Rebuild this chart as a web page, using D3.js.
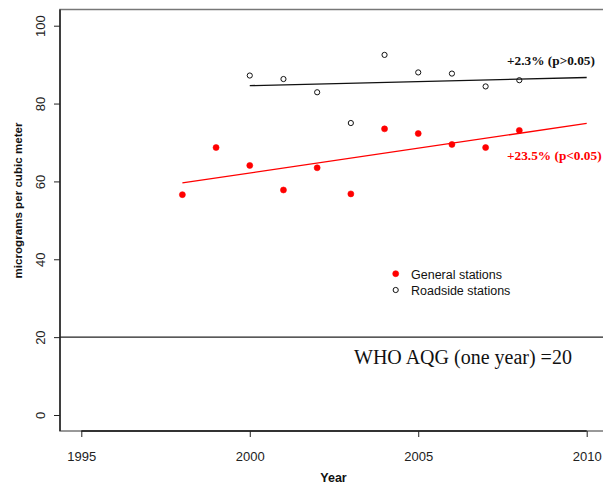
<!DOCTYPE html>
<html>
<head>
<meta charset="utf-8">
<script src="https://cdn.jsdelivr.net/npm/d3@7"></script>
<style>
  html, body { margin: 0; padding: 0; background: #fff; }
  svg { display: block; }
</style>
</head>
<body>
<svg id="chart" width="603" height="485"></svg>
<script>
// Annual mean concentrations (micrograms per cubic meter)
const generalYears  = [1998, 1999, 2000, 2001, 2002, 2003, 2004, 2005, 2006, 2007, 2008];
const generalValues = [56.6, 68.7, 64.1, 57.8, 63.5, 56.8, 73.5, 72.3, 69.5, 68.7, 73.1];

const roadsideYears  = [2000, 2001, 2002, 2003, 2004, 2005, 2006, 2007, 2008];
const roadsideValues = [87.2, 86.3, 82.9, 75.0, 92.5, 88.0, 87.7, 84.4, 86.0];

// Fitted trend lines (start and end)
const generalTrendYears  = [1998, 2010];
const generalTrendValues = [59.6, 74.9];
const roadsideTrendYears  = [2000, 2010];
const roadsideTrendValues = [84.6, 86.7];

const guidelineValue = 20;

const xTicks = [1995, 2000, 2005, 2010];
const yTicks = [0, 20, 40, 60, 80, 100];

const svg = d3.select("#chart");

const box = { left: 60, top: 9.5, right: 607, bottom: 431 };

const x = d3.scaleLinear().domain([1995, 2010]).range([81.3, 586.7]);
const y = d3.scaleLinear().domain([0, 100]).range([415, 25.7]);

const sans = "Liberation Sans, Arial, Helvetica, sans-serif";
const serif = "Liberation Serif, Times New Roman, serif";

// Box
svg.append("rect")
  .attr("x", box.left).attr("y", box.top)
  .attr("width", box.right - box.left).attr("height", box.bottom - box.top)
  .attr("fill", "none").attr("stroke", "#777").attr("stroke-width", 1.5);

// Guideline
svg.append("line")
  .attr("x1", box.left).attr("x2", box.right)
  .attr("y1", y(guidelineValue)).attr("y2", y(guidelineValue))
  .attr("stroke", "#222").attr("stroke-width", 1.3);

// Axes
const xAxis = d3.axisBottom(x).tickValues(xTicks).tickFormat(d3.format("d")).tickSize(6).tickPadding(15).tickSizeOuter(0);
const gx = svg.append("g").attr("transform", `translate(0,${box.bottom})`).call(xAxis);
gx.select(".domain").attr("stroke", "#333").attr("stroke-width", 2)
  .attr("d", `M${x(1995)},0H${x(2010)}`);
gx.selectAll(".tick line").attr("stroke", "#222").attr("stroke-width", 1);
gx.selectAll(".tick text").attr("font-family", sans).attr("font-size", 13).attr("fill", "#222");

const yAxis = d3.axisLeft(y).tickValues(yTicks).tickSize(6).tickPadding(6).tickSizeOuter(0);
const gy = svg.append("g").attr("transform", `translate(${box.left},0)`).call(yAxis);
gy.select(".domain").attr("stroke", "#222").attr("stroke-width", 1.5)
  .attr("d", `M0,${box.top}V${box.bottom}`);
gy.selectAll(".tick line").attr("stroke", "#222").attr("stroke-width", 1);
gy.selectAll(".tick text")
  .attr("font-family", sans).attr("font-size", 13).attr("fill", "#222")
  .attr("text-anchor", "middle").attr("dy", null)
  .attr("x", null)
  .attr("transform", "translate(-15,0) rotate(-90)")
  .attr("y", 0);

// Axis titles
svg.append("text")
  .attr("x", (box.left + box.right) / 2).attr("y", 482)
  .attr("text-anchor", "middle")
  .attr("font-family", sans).attr("font-weight", "bold").attr("font-size", 12.5).attr("fill", "#111")
  .text("Year");

svg.append("text")
  .attr("transform", "translate(22,200.5) rotate(-90)")
  .attr("text-anchor", "middle")
  .attr("font-family", sans).attr("font-weight", "bold").attr("font-size", 11.6).attr("fill", "#111")
  .text("micrograms per cubic meter");

// Trend lines
const line = d3.line().x(d => x(d[0])).y(d => y(d[1]));
svg.append("path")
  .attr("d", line(d3.zip(roadsideTrendYears, roadsideTrendValues)))
  .attr("fill", "none").attr("stroke", "#111").attr("stroke-width", 1.3);
svg.append("path")
  .attr("d", line(d3.zip(generalTrendYears, generalTrendValues)))
  .attr("fill", "none").attr("stroke", "#f00").attr("stroke-width", 1.3);

// Points
svg.append("g").selectAll("circle")
  .data(d3.zip(roadsideYears, roadsideValues))
  .join("circle")
  .attr("cx", d => x(d[0])).attr("cy", d => y(d[1])).attr("r", 2.6)
  .attr("fill", "none").attr("stroke", "#111").attr("stroke-width", 1);

svg.append("g").selectAll("circle")
  .data(d3.zip(generalYears, generalValues))
  .join("circle")
  .attr("cx", d => x(d[0])).attr("cy", d => y(d[1])).attr("r", 3)
  .attr("fill", "#f00").attr("stroke", "#f00").attr("stroke-width", 0.6);

// Trend annotations
svg.append("text")
  .attr("x", 507).attr("y", 65)
  .attr("font-family", serif).attr("font-weight", "bold").attr("font-size", 13.3).attr("fill", "#111")
  .text("+2.3% (p>0.05)");
svg.append("text")
  .attr("x", 507).attr("y", 160)
  .attr("font-family", serif).attr("font-weight", "bold").attr("font-size", 13.3).attr("fill", "#f00")
  .text("+23.5% (p<0.05)");

// Guideline label
svg.append("text")
  .attr("x", 354).attr("y", 364)
  .attr("font-family", serif).attr("font-size", 20).attr("fill", "#111")
  .text("WHO AQG (one year) =20");

// Legend
const legend = svg.append("g");
legend.append("circle").attr("cx", 395.7).attr("cy", 273.7).attr("r", 3)
  .attr("fill", "#f00").attr("stroke", "#f00").attr("stroke-width", 0.6);
legend.append("circle").attr("cx", 395.7).attr("cy", 290).attr("r", 2.6)
  .attr("fill", "none").attr("stroke", "#111").attr("stroke-width", 1);
legend.append("text").attr("x", 411).attr("y", 279)
  .attr("font-family", sans).attr("font-size", 12.5).attr("fill", "#111")
  .text("General stations");
legend.append("text").attr("x", 411).attr("y", 295)
  .attr("font-family", sans).attr("font-size", 12.5).attr("fill", "#111")
  .text("Roadside stations");
</script>
</body>
</html>
